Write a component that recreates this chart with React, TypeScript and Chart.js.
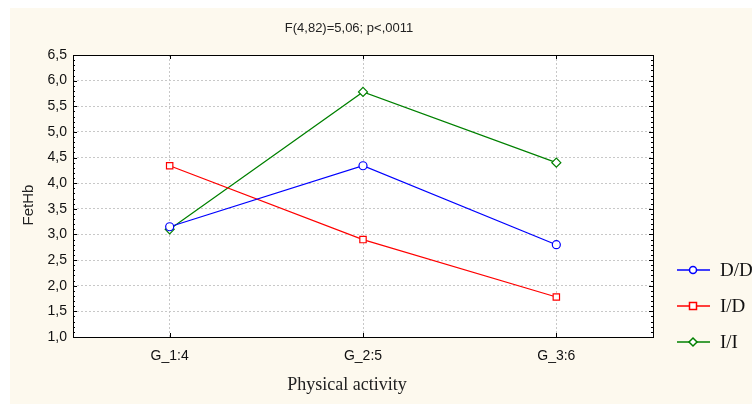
import React, { useEffect, useRef } from "react";
import { Chart, registerables } from "chart.js";

Chart.register(...registerables);

const categories = ["G_1:4", "G_2:5", "G_3:6"];
const seriesNames = ["D/D", "I/D", "I/I"];
const valuesDD = [3.15, 4.34, 2.8];
const valuesID = [4.34, 2.9, 1.78];
const valuesII = [3.1, 5.78, 4.4];
const titleText = "F(4,82)=5,06; p<,0011";
const yTitle = "FetHb";
const xTitle = "Physical activity";

const colors = ["#0000ff", "#ff0000", "#008000"];
const pointStyles = ["circle", "rect", "rectRot"];
const radii = [4, 4.5, 4.5];

const W = 752;
const H = 405;
const PLOT = { left: 73, top: 55, right: 653, bottom: 337 };

const decorPlugin = {
  id: "decor",
  beforeDraw(chart: any) {
    const ctx = chart.ctx;
    ctx.save();
    ctx.fillStyle = "#ffffff";
    ctx.fillRect(0, 0, W, H);
    ctx.fillStyle = "#fdf9ee";
    ctx.fillRect(10, 8, W - 10, H - 9);
    const a = chart.chartArea;
    ctx.fillStyle = "#ffffff";
    ctx.fillRect(a.left, a.top, a.right - a.left, a.bottom - a.top);
    ctx.restore();
  },
  afterDraw(chart: any) {
    const ctx = chart.ctx;
    const a = chart.chartArea;
    const ys = chart.scales.y;
    const xs = chart.scales.x;
    ctx.save();
    ctx.strokeStyle = "#000";
    ctx.lineWidth = 1;
    ctx.strokeRect(Math.round(a.left) + 0.5, Math.round(a.top) + 0.5, Math.round(a.right - a.left), Math.round(a.bottom - a.top));
    for (let v = 1.0; v <= 6.5001; v += 0.1) {
      const y = Math.round(ys.getPixelForValue(v)) + 0.5;
      const major = Math.abs(v * 2 - Math.round(v * 2)) < 1e-6;
      const len = major ? 4 : 2;
      ctx.beginPath();
      ctx.moveTo(a.left, y);
      ctx.lineTo(a.left + len, y);
      ctx.moveTo(a.right, y);
      ctx.lineTo(a.right - len, y);
      ctx.stroke();
    }
    for (let i = 0; i < categories.length; i++) {
      const x = Math.round(xs.getPixelForValue(i)) + 0.5;
      ctx.beginPath();
      ctx.moveTo(x, a.bottom);
      ctx.lineTo(x, a.bottom - 4);
      ctx.moveTo(x, a.top);
      ctx.lineTo(x, a.top + 4);
      ctx.stroke();
    }
    ctx.fillStyle = "#222";
    ctx.font = "13px 'Liberation Sans', Arial, sans-serif";
    ctx.textAlign = "center";
    ctx.textBaseline = "middle";
    ctx.fillText(titleText, 349, 28);
    ctx.save();
    ctx.translate(29, 205);
    ctx.rotate(-Math.PI / 2);
    ctx.font = "15px 'Liberation Sans', Arial, sans-serif";
    ctx.fillText(yTitle, 0, 0);
    ctx.restore();
    ctx.font = "18px 'Liberation Serif', 'Times New Roman', serif";
    ctx.fillText(xTitle, 347, 385);
    const ly = [270, 306, 342];
    chart.data.datasets.forEach((ds: any, i: number) => {
      const y = ly[i];
      ctx.strokeStyle = ds.borderColor;
      ctx.lineWidth = 1.5;
      ctx.beginPath();
      ctx.moveTo(677, y);
      ctx.lineTo(710, y);
      ctx.stroke();
      ctx.fillStyle = "#fff";
      const cx = 693;
      ctx.beginPath();
      if (ds.pointStyle === "circle") {
        ctx.arc(cx, y, 3.5, 0, Math.PI * 2);
      } else if (ds.pointStyle === "rect") {
        ctx.rect(cx - 3.5, y - 3.5, 7, 7);
      } else {
        ctx.moveTo(cx, y - 4);
        ctx.lineTo(cx + 4, y);
        ctx.lineTo(cx, y + 4);
        ctx.lineTo(cx - 4, y);
        ctx.closePath();
      }
      ctx.fill();
      ctx.stroke();
      ctx.fillStyle = "#111";
      ctx.font = "19px 'Liberation Serif', 'Times New Roman', serif";
      ctx.textAlign = "left";
      ctx.fillText(ds.label, 720, y + 1);
    });
    ctx.restore();
  },
};

export default function App() {
  const ref = useRef<HTMLCanvasElement>(null);
  useEffect(() => {
    if (!ref.current) return;
    const all = [valuesDD, valuesID, valuesII];
    const chart = new Chart(ref.current, {
      type: "line",
      data: {
        labels: categories,
        datasets: seriesNames.map((name, i) => ({
          label: name,
          data: all[i],
          borderColor: colors[i],
          backgroundColor: "#ffffff",
          borderWidth: 1.2,
          pointStyle: pointStyles[i] as any,
          pointRadius: radii[i],
          pointBorderWidth: 1.2,
          pointBackgroundColor: "#ffffff",
          pointBorderColor: colors[i],
          tension: 0,
        })),
      },
      options: {
        animation: false,
        responsive: false,
        devicePixelRatio: 1,
        layout: { padding: { left: 0, top: PLOT.top, right: W - PLOT.right, bottom: 0 } },
        plugins: {
          legend: { display: false },
          title: { display: false },
          tooltip: { enabled: false },
        },
        scales: {
          x: {
            type: "category",
            offset: true,
            grid: { display: true, color: "#c8c8c8", tickLength: 0, drawTicks: false },
            border: { display: false, dash: [2, 2] },
            ticks: {
              color: "#111",
              font: { family: "'Liberation Sans', Arial, sans-serif", size: 14 },
              padding: 11,
            },
            afterFit(scale: any) {
              scale.height = H - PLOT.bottom;
            },
          },
          y: {
            min: 1,
            max: 6.5,
            grid: { display: true, color: "#c8c8c8", drawTicks: false, tickLength: 0 },
            border: { display: false, dash: [2, 2] },
            ticks: {
              stepSize: 0.5,
              color: "#111",
              font: { family: "'Liberation Sans', Arial, sans-serif", size: 14 },
              padding: 6,
              callback: (v: any) => Number(v).toFixed(1).replace(".", ","),
            },
            afterFit(scale: any) {
              scale.width = PLOT.left;
            },
          },
        },
      },
      plugins: [decorPlugin],
    });
    return () => chart.destroy();
  }, []);
  return (
    <div style={{ position: "fixed", left: 0, top: 0, width: W, height: H }}>
      <canvas ref={ref} width={W} height={H} style={{ width: W, height: H, display: "block" }} />
    </div>
  );
}
